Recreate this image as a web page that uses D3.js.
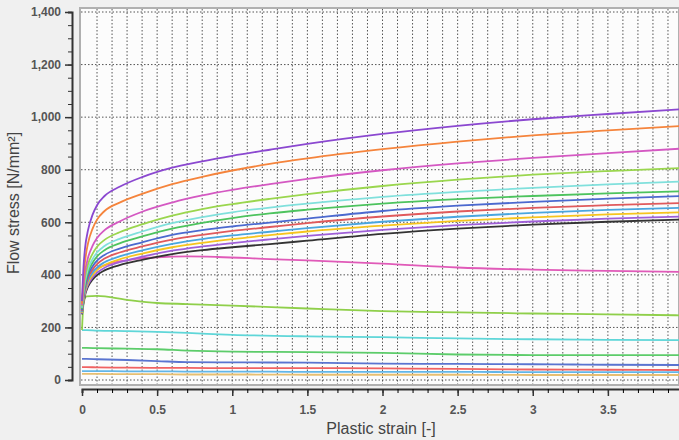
<html>
<head>
<meta charset="utf-8">
<script src="https://cdn.jsdelivr.net/npm/d3@7"></script>
<style>
  body { margin: 0; background: #f0f0f0; font-family: Arial, 'Liberation Sans', sans-serif; }
  .tick text { fill: #555; font-weight: bold; font-size: 12px; }
</style>
</head>
<body>
<div id="chart"></div>
<script>
  // strain points for the hardening curves
  const strainUp = [0, 0.01, 0.02, 0.04, 0.07, 0.1, 0.15, 0.25, 0.4, 0.6, 0.8, 1.0, 1.25, 1.5, 2.0, 2.5, 3.0, 3.5, 3.98]
  const purpleTop = [300, 430, 500, 570, 628, 665, 700, 735, 772, 808, 832, 853, 876, 898, 936, 967, 992, 1012, 1030]
  const orange = [290, 390, 450, 520, 575, 610, 643, 675, 708, 745, 773, 797, 822, 843, 878, 907, 931, 950, 966]
  const magenta = [285, 360, 410, 465, 510, 540, 570, 603, 640, 675, 702, 723, 745, 765, 798, 824, 845, 863, 880]
  const lightGreen = [280, 345, 390, 440, 480, 507, 533, 562, 592, 625, 650, 669, 689, 707, 738, 762, 781, 795, 806]
  const cyan = [275, 335, 375, 422, 460, 485, 510, 537, 565, 597, 620, 638, 656, 671, 697, 716, 731, 744, 755]
  const green = [270, 328, 366, 410, 446, 470, 494, 520, 546, 576, 598, 616, 634, 648, 671, 688, 700, 710, 718]
  const blue = [265, 320, 356, 398, 432, 454, 476, 500, 524, 552, 570, 584, 599, 614, 643, 663, 678, 690, 700]
  const red = [262, 314, 348, 388, 420, 441, 462, 485, 508, 534, 552, 567, 582, 597, 622, 641, 655, 665, 673]
  const lightBlue = [258, 308, 340, 378, 408, 428, 448, 470, 493, 518, 536, 550, 564, 578, 602, 621, 636, 647, 655]
  const yellow = [255, 303, 334, 370, 399, 418, 437, 459, 481, 505, 522, 536, 551, 565, 587, 605, 619, 630, 638]
  const violet = [252, 298, 328, 362, 390, 408, 427, 448, 469, 492, 508, 521, 535, 548, 571, 589, 603, 614, 622]
  const black = [250, 294, 322, 355, 382, 399, 417, 437, 457, 479, 494, 505, 517, 530, 556, 576, 591, 602, 610]

  // magenta curve that peaks and softens
  const strainPeak = [0, 0.01, 0.02, 0.04, 0.07, 0.1, 0.2, 0.35, 0.5, 0.7, 0.9, 1.25, 1.5, 2.0, 2.5, 3.0, 3.5, 3.98]
  const magentaLow = [300, 350, 375, 398, 415, 425, 445, 460, 467, 470, 468, 460, 455, 443, 428, 420, 415, 411]

  // strain points for the softening curves
  const strainDown = [0, 0.01, 0.03, 0.1, 0.3, 0.5, 0.7, 1.0, 1.5, 2.0, 2.5, 3.0, 3.5, 3.98]
  const yellowGreenLow = [190, 290, 318, 320, 305, 293, 289, 283, 272, 262, 257, 253, 250, 246]
  const cyanLow = [190, 190, 190, 188, 186, 183, 179, 172, 166, 163, 158, 155, 153, 152]
  const greenLow = [122, 122, 122, 121, 119, 117, 112, 108, 106, 103, 97, 95, 95, 95]
  const blueLow = [80, 80, 80, 79, 76, 72, 68, 67, 66, 62, 61, 60, 58, 57]
  const redLow = [49, 49, 49, 48, 47, 46, 46, 45, 45, 44, 42, 40, 39, 38]
  const lightBlueLow = [34, 34, 34, 34, 33, 33, 32, 32, 31, 31, 31, 30, 30, 30]
  const tanLow = [23, 23, 23, 23, 22, 22, 21, 21, 20, 20, 20, 19, 19, 19]

  const upSeries = [
    [purpleTop, "#8b48d0"], [orange, "#f5843c"], [magenta, "#d458c2"], [lightGreen, "#9ad64e"],
    [cyan, "#80e0dc"], [green, "#4dc35e"], [blue, "#4b69cf"], [red, "#e05a5c"],
    [lightBlue, "#4aa6df"], [yellow, "#f6c41e"], [violet, "#9f5fd8"], [black, "#333333"]
  ]
  const downSeries = [
    [yellowGreenLow, "#8fcf4a"], [cyanLow, "#5fd6d8"], [greenLow, "#5ccc6a"],
    [blueLow, "#5a74d0"], [redLow, "#f06262"], [lightBlueLow, "#62b6e8"], [tanLow, "#e6bf72"]
  ]

  const yTicks = [0, 200, 400, 600, 800, 1000, 1200, 1400]
  const xTicks = [0, 0.5, 1, 1.5, 2, 2.5, 3, 3.5]

  const W = 679, H = 440
  const svg = d3.select("#chart").append("svg").attr("width", W).attr("height", H)

  const x = d3.scaleLinear().domain([0, 4]).range([82, 683])
  const y = d3.scaleLinear().domain([0, 1400]).range([380, 12])

  //プロット領域
  svg.append("rect").attr("x", 80).attr("y", 8).attr("width", W - 80).attr("height", 377)
    .attr("fill", "#fcfcfc").attr("stroke", "#b0b0b0").attr("stroke-width", 2)

  //グリッド
  const grid = svg.append("g")
  grid.selectAll(".vg").data(d3.range(1, 40).map(i => i / 10)).join("line")
    .attr("x1", d => x(d)).attr("x2", d => x(d)).attr("y1", 9).attr("y2", 384)
    .attr("stroke", "#555").attr("stroke-width", 1).attr("stroke-dasharray", "1.5,2")
  grid.selectAll(".hg").data(yTicks).join("line")
    .attr("x1", 81).attr("x2", W).attr("y1", d => y(d)).attr("y2", d => y(d))
    .attr("stroke", "#555").attr("stroke-width", 1).attr("stroke-dasharray", "1.5,2")

  //曲線
  const line = d3.line().x(d => x(d[0])).y(d => y(d[1])).curve(d3.curveMonotoneX)
  const curves = svg.append("g")
  const drawCurve = (xs, vals, col) => curves.append("path")
    .attr("d", line(xs.map((s, i) => [s, vals[i]])))
    .attr("fill", "none").attr("stroke", col).attr("stroke-width", 1.8)
  downSeries.slice().reverse().forEach(([vals, col]) => drawCurve(strainDown, vals, col))
  drawCurve(strainPeak, magentaLow, "#e05ab8")
  upSeries.slice().reverse().forEach(([vals, col]) => drawCurve(strainUp, vals, col))

  //軸
  const yAxisG = svg.append("g").attr("transform", "translate(72,0)")
  yAxisG.call(d3.axisLeft(y).tickValues(d3.range(0, 1401, 50)).tickSize(4).tickFormat(""))
  yAxisG.call(g => g.selectAll(".tick line").attr("stroke", "#333"))
  const yMajor = svg.append("g").attr("transform", "translate(72,0)")
    .call(d3.axisLeft(y).tickValues(yTicks).tickSize(7).tickPadding(4).tickFormat(d3.format(",")))
  yMajor.select(".domain").remove()
  yAxisG.select(".domain").attr("stroke", "#333").attr("stroke-width", 2)
  yMajor.selectAll(".tick line").attr("stroke", "#333").attr("stroke-width", 1.5)

  const xAxisG = svg.append("g").attr("transform", "translate(0,389)")
  xAxisG.call(d3.axisBottom(x).tickValues(d3.range(0, 40).map(i => i / 10)).tickSize(4).tickFormat(""))
  xAxisG.select(".domain").attr("stroke", "#333").attr("stroke-width", 2)
  const xMajor = svg.append("g").attr("transform", "translate(0,389)")
    .call(d3.axisBottom(x).tickValues(xTicks).tickSize(7).tickPadding(9).tickFormat(d => d))
  xMajor.select(".domain").remove()
  xMajor.selectAll(".tick line").attr("stroke", "#333").attr("stroke-width", 1.5)

  svg.append("text").attr("x", 381).attr("y", 434).attr("text-anchor", "middle")
    .attr("font-size", 16).attr("fill", "#444").text("Plastic strain [-]")
  svg.append("text").attr("transform", "translate(19,203) rotate(-90)").attr("text-anchor", "middle")
    .attr("font-size", 16).attr("fill", "#444").text("Flow stress [N/mm²]")
</script>
</body>
</html>
